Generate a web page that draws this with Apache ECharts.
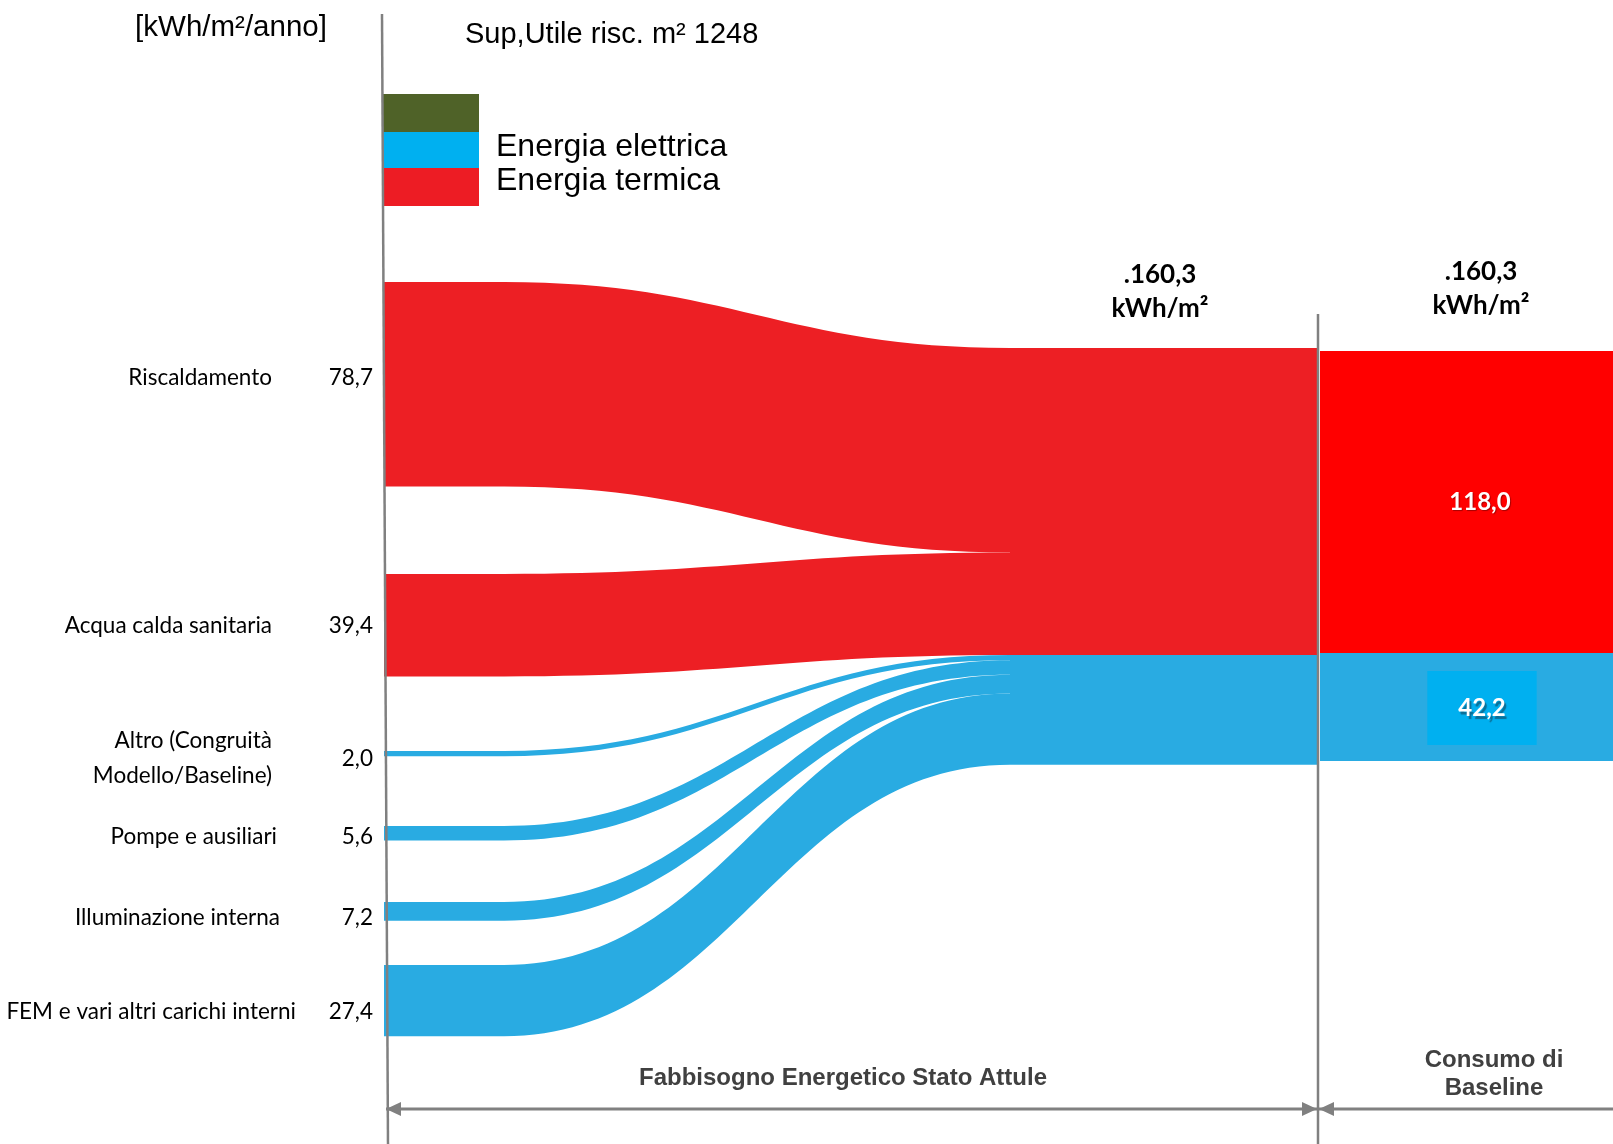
<!DOCTYPE html>
<html>
<head>
<meta charset="utf-8">
<script src="https://cdn.jsdelivr.net/npm/echarts@6/dist/echarts.min.js"></script>
<style>
  html, body { margin: 0; padding: 0; background: #fff; }
  #chart { width: 1613px; height: 1144px; }
</style>
</head>
<body>
<div id="chart"></div>
<script>
// voci del fabbisogno energetico [kWh/m²/anno]
const voci = ['Riscaldamento', 'Acqua calda sanitaria', 'Altro (Congruità\nModello/Baseline)',
              'Pompe e ausiliari', 'Illuminazione interna', 'FEM e vari altri carichi interni'];
const valori = [78.7, 39.4, 2.0, 5.6, 7.2, 27.4];
const vettore = ['Energia termica', 'Energia termica', 'Energia elettrica',
                 'Energia elettrica', 'Energia elettrica', 'Energia elettrica'];
const vettori = ['Energia termica', 'Energia elettrica'];
const fabbisogno = ['Fabbisogno termico', 'Fabbisogno elettrico'];

// consumo di baseline
const baseline = ['Baseline termica', 'Baseline elettrica'];
const baselineValori = [118.0, 42.2];

// layout (pixel)
const W = 1613, H = 1144;
const KY = 2.6, KY_B = 2.56;          // pixel per kWh/m²
const NODE_W = 120;
const X_SX = 384, X_A = 1010, X_MID = 1318, X_B = 1320;
const yVoci = [282, 574, 751, 826, 902, 965];
const slotValore = [101, 101, 101, 96, 93, 77];
const labelDy = [-7, 1, 5, 3, 6, 11];
const Y_MID = 348, Y_B = 351;

const ROSSO = '#ED1F24', BLU = '#29ABE2', GRIGIO = '#808080';
const colori = { 'Energia termica': ROSSO, 'Energia elettrica': BLU };

const fmt = v => v.toFixed(1).replace('.', ',');
const somma = a => a.reduce((s, v) => s + v, 0);
const totale = somma(valori);
const totVettore = vettori.map(t => somma(valori.filter((v, i) => vettore[i] === t)));

const testoBase = { fontFamily: 'Lato', fontSize: 22.5, color: '#000', lineHeight: 34 };

const nodiSx = voci.map((nome, i) => {
  const righe = nome.split('\n');
  const f = righe.length === 1
    ? `{n|${nome}}{v|${fmt(valori[i])}}`
    : `{n|${righe[0]}}{e| }\n{v|${fmt(valori[i])}}\n{n|${righe[1]}}{e| }`;
  return {
    name: nome,
    localX: X_SX / W,
    localY: yVoci[i] / H,
    itemStyle: { color: colori[vettore[i]] },
    label: {
      show: true, position: 'left', distance: 11, offset: [0, labelDy[i]], formatter: f,
      rich: {
        n: Object.assign({}, testoBase, { align: 'right' }),
        v: Object.assign({}, testoBase, { align: 'right', width: slotValore[i],
                                          lineHeight: righe.length === 1 ? 34 : 1 }),
        e: Object.assign({}, testoBase, { align: 'right', width: slotValore[i] })
      }
    }
  };
});

// nodo di arrivo (A) e tratto piatto fino alla linea di separazione
let yCum = Y_MID;
const nodiA = [], nodiF = [];
vettori.forEach((t, k) => {
  nodiA.push({
    name: t, localX: X_A / W, localY: yCum / H,
    itemStyle: { color: colori[t] }, label: { show: false }
  });
  nodiF.push({
    name: fabbisogno[k], localX: (X_MID - NODE_W) / W, localY: yCum / H,
    itemStyle: { color: colori[t] },
    label: k === 0 ? {
      show: true, position: 'top', distance: 22, offset: [-98, 0],
      formatter: '.' + fmt(totale) + '\nkWh/m²',
      fontFamily: 'Lato', fontWeight: 'bold', fontSize: 26, lineHeight: 34, color: '#000', align: 'center'
    } : { show: false }
  });
  yCum += totVettore[k] * KY;
});

const links = voci.map((nome, i) => ({ source: nome, target: vettore[i], value: valori[i] }))
  .concat(vettori.map((t, k) => ({ source: t, target: fabbisogno[k], value: totVettore[k] })));

const nodiB = [
  {
    name: baseline[0], value: baselineValori[0],
    localX: X_B / W, localY: Y_B / H,
    itemStyle: { color: '#FF0000' },
    label: {
      show: true, position: 'inside', formatter: fmt(baselineValori[0]),
      fontFamily: 'Lato', fontWeight: 'bold', fontSize: 24, color: '#fff',
      textShadowColor: 'rgba(0,0,0,0.35)', textShadowOffsetX: 1, textShadowOffsetY: 1, textShadowBlur: 1
    }
  },
  {
    name: baseline[1], value: baselineValori[1],
    localX: X_B / W, localY: (Y_B + baselineValori[0] * KY_B) / H,
    itemStyle: { color: BLU },
    label: {
      show: true, position: 'inside', formatter: fmt(baselineValori[1]), offset: [2, 1],
      fontFamily: 'Lato', fontWeight: 'bold', fontSize: 24, color: '#fff',
      backgroundColor: '#00B0F0', padding: [25, 31],
      textShadowColor: '#0B6E96', textShadowOffsetX: 2, textShadowOffsetY: 3, textShadowBlur: 1
    }
  }
];

const chart = echarts.init(document.getElementById('chart'));

const arrowY = 1109;
const option = {
  backgroundColor: '#fff',
  animation: false,
  series: [
    {
      type: 'sankey',
      left: 0, top: 0, right: 0, bottom: 0,
      nodeWidth: NODE_W,
      nodeGap: (H - KY * totale) / (voci.length - 1),
      layoutIterations: 0,
      draggable: false,
      emphasis: { disabled: true },
      itemStyle: { borderWidth: 0 },
      lineStyle: { color: 'source', opacity: 1, curveness: 0.45 },
      data: nodiSx.concat(nodiA, nodiF),
      links: links
    },
    {
      type: 'sankey',
      left: 0, top: 0, right: 0, bottom: 0,
      nodeWidth: 320,
      nodeGap: H - KY_B * somma(baselineValori),
      layoutIterations: 0,
      draggable: false,
      emphasis: { disabled: true },
      itemStyle: { borderWidth: 0 },
      data: nodiB,
      links: []
    }
  ],
  graphic: [
    // assi verticali
    { type: 'line', z: 100, shape: { x1: 382, y1: 14, x2: 388, y2: H }, style: { stroke: GRIGIO, lineWidth: 2.5 } },
    { type: 'line', z: 100, shape: { x1: X_MID, y1: 314, x2: X_MID, y2: H }, style: { stroke: GRIGIO, lineWidth: 2.5 } },
    // freccia in basso
    { type: 'line', z: 100, shape: { x1: 386, y1: arrowY, x2: W, y2: arrowY }, style: { stroke: GRIGIO, lineWidth: 3 } },
    { type: 'polygon', z: 100, shape: { points: [[386, arrowY], [401, arrowY - 7], [401, arrowY + 7]] }, style: { fill: GRIGIO } },
    { type: 'polygon', z: 100, shape: { points: [[X_MID - 1, arrowY], [X_MID - 16, arrowY - 7], [X_MID - 16, arrowY + 7]] }, style: { fill: GRIGIO } },
    { type: 'polygon', z: 100, shape: { points: [[X_MID + 1, arrowY], [X_MID + 16, arrowY - 7], [X_MID + 16, arrowY + 7]] }, style: { fill: GRIGIO } },
    // legenda
    { type: 'rect', shape: { x: 383, y: 94, width: 96, height: 38 }, style: { fill: '#4F6228' } },
    { type: 'rect', shape: { x: 383, y: 132, width: 96, height: 36 }, style: { fill: '#00B0F0' } },
    { type: 'rect', shape: { x: 383, y: 168, width: 96, height: 38 }, style: { fill: '#ED1C24' } },
    { type: 'text', x: 496, y: 147, style: { text: 'Energia elettrica', font: '32px "Liberation Sans"', fill: '#000', verticalAlign: 'middle' } },
    { type: 'text', x: 496, y: 181, style: { text: 'Energia termica', font: '32px "Liberation Sans"', fill: '#000', verticalAlign: 'middle' } },
    // testi
    { type: 'text', x: 231, y: 28, style: { text: '[kWh/m²/anno]', font: '29.5px "Liberation Sans"', fill: '#000', align: 'center', verticalAlign: 'middle' } },
    { type: 'text', x: 465, y: 35, style: { text: 'Sup,Utile risc. m² 1248', font: '29px "Liberation Sans"', fill: '#000', verticalAlign: 'middle' } },
    { type: 'text', x: 1481, y: 289, style: { text: '.' + fmt(totale) + '\nkWh/m²', font: 'bold 26px Lato', lineHeight: 34, fill: '#000', align: 'center', verticalAlign: 'middle' } },
    { type: 'text', x: 843, y: 1078, style: { text: 'Fabbisogno Energetico Stato Attule', font: 'bold 24px "Liberation Sans"', fill: '#404040', align: 'center', verticalAlign: 'middle' } },
    { type: 'text', x: 1494, y: 1074, style: { text: 'Consumo di\nBaseline', font: 'bold 24px "Liberation Sans"', lineHeight: 28, fill: '#404040', align: 'center', verticalAlign: 'middle' } }
  ]
};

chart.setOption(option);
</script>
</body>
</html>
